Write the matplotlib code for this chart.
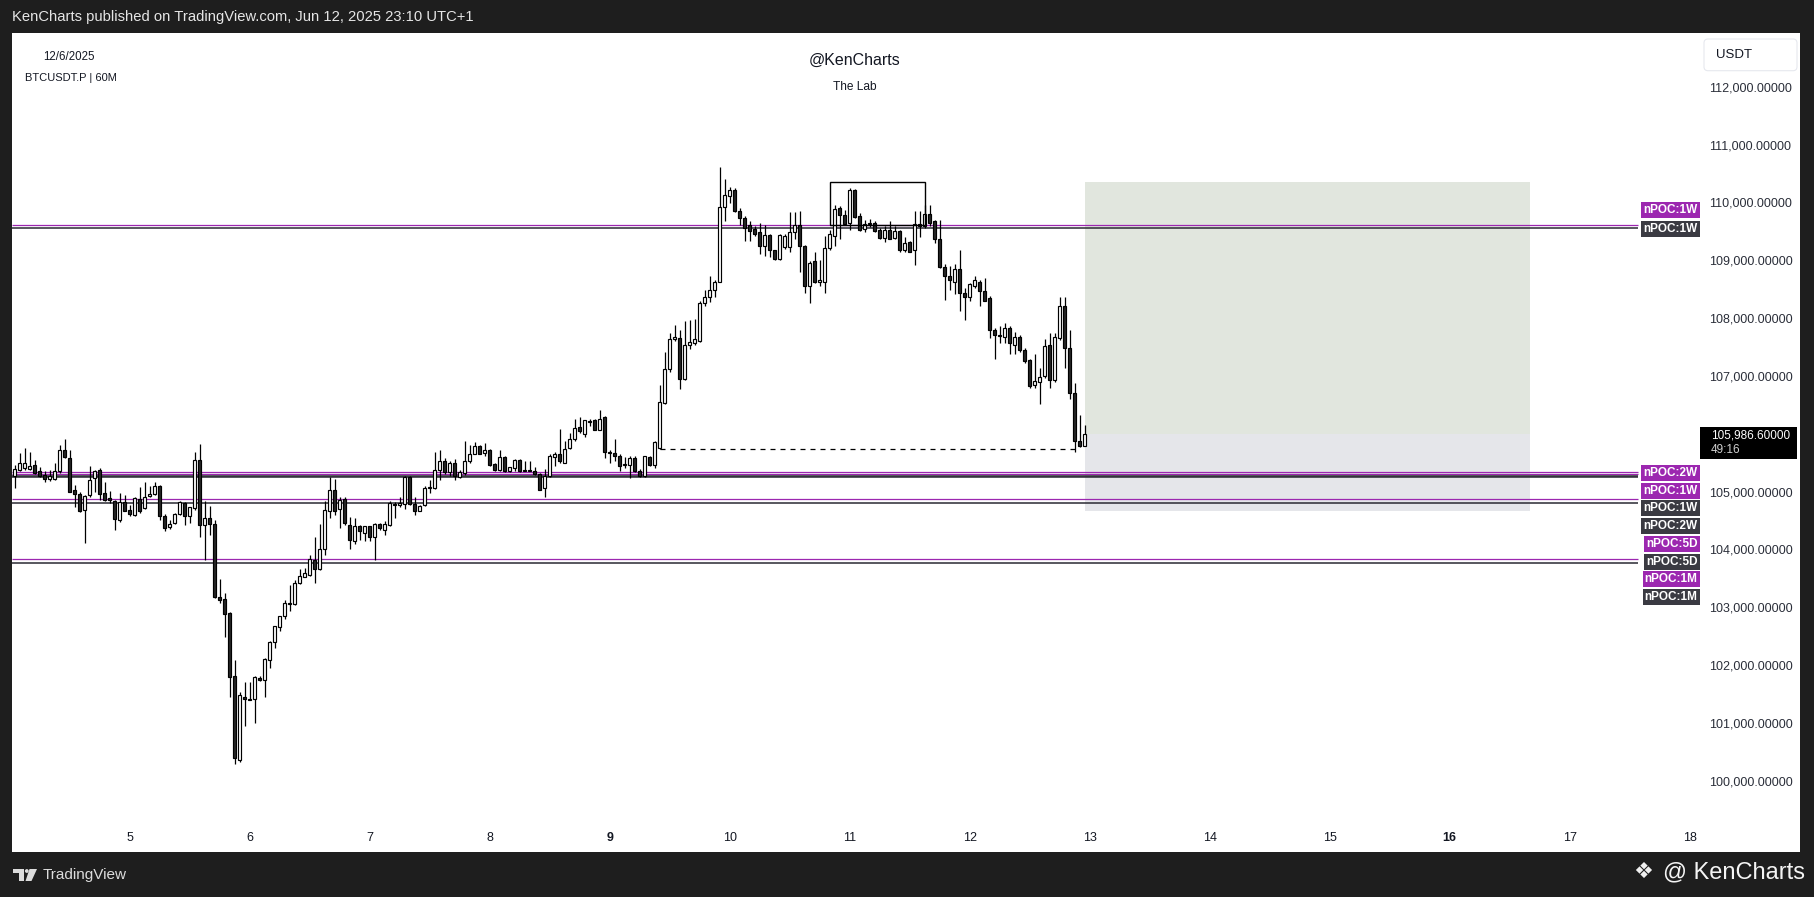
import matplotlib
matplotlib.use("Agg")
import matplotlib.pyplot as plt
import matplotlib.transforms as mtransforms
from matplotlib.patches import Rectangle, FancyBboxPatch, Circle, Polygon
import numpy as np

# ---------------- data ----------------
# hourly candles, index = hours since 5 Jun 2025 00:00 (UTC+1)
hours = list(range(-23, 192))
opens = [
    105270,105380,105400,105390,105460,105350,105290,105210,105210,105350,
    105720,105580,105030,104960,104680,104940,105230,105380,104970,104880,
    104830,104510,104810,104680,104590,104870,104710,104930,104960,105100,
    104580,104380,104450,104610,104800,104570,104710,105550,104420,104540,
    104440,103170,103140,102900,101810,100360,101440,101420,101410,101780,
    101740,102090,102390,102650,102840,103080,103060,103420,103530,103560,
    103820,103660,104000,104670,105020,104700,104870,104420,104150,104410,
    104290,104400,104220,104440,104330,104420,104790,104760,104780,105250,
    104790,104670,104770,105060,105060,105380,105520,105330,105490,105250,
    105320,105520,105650,105780,105660,105720,105480,105380,105600,105350,
    105400,105540,105380,105370,105360,105310,105060,105260,105600,105640,
    105500,105750,105900,106110,106000,106220,106230,106070,106290,105680,
    105670,105620,105450,105450,105580,105360,105260,105600,105460,105750,
    106530,107110,107630,107650,106940,107540,107560,107600,108260,108370,
    108480,108630,109920,110110,110210,109850,109730,109610,109540,109480,
    109250,109440,109170,109020,109230,109230,109480,109610,109240,108550,
    108980,108620,108630,109210,109420,109900,109790,109640,110220,109760,
    109540,109630,109640,109520,109380,109530,109380,109500,109170,109310,
    109170,109630,109590,109800,109670,109360,108890,108730,108630,108850,
    108440,108370,108560,108630,108460,108350,107800,107710,107680,107830,
    107540,107670,107440,107270,106850,106900,106990,107540,106920,107650,
    108210,107480,106700,105880,105790,
]
highs = [
    105460,105660,105750,105680,105550,105430,105350,105380,105500,105810,
    105900,105710,105120,105000,104940,105440,105380,105400,105160,105010,
    104860,104970,104940,104770,104900,105080,105170,105090,105170,105110,
    104610,104510,104630,104830,104820,104740,105690,105830,104830,104750,
    104510,103480,103250,102920,102090,101540,101710,101710,101810,101810,
    102120,102420,102680,102850,103130,103390,103470,103660,103670,103900,
    104220,104440,104830,105250,105210,104910,104900,104560,104550,104420,
    104410,104410,104450,104450,104490,104840,104810,104900,105260,105270,
    104900,104770,105090,105200,105680,105720,105580,105520,105570,105380,
    105870,105810,105850,105810,105840,105730,105490,105720,105610,105430,
    105560,105560,105530,105520,105420,105320,105390,105640,105690,106080,
    105870,106020,106250,106290,106240,106250,106250,106410,106310,105720,
    105910,105650,105600,105620,105620,105390,105620,105620,105870,106850,
    107410,107740,107880,107800,107940,107960,107980,108290,108480,108730,
    108650,110610,110400,110270,110250,109900,109760,109670,109590,109650,
    109610,109460,109180,109460,109460,109830,109830,109850,109270,108980,
    109150,109010,109410,109520,109960,109940,109870,110250,110230,109820,
    109700,109710,109670,109560,109590,109670,109590,109520,109400,109330,
    109850,109850,109960,109960,109690,109690,108940,108900,108940,109170,
    108520,108600,108730,108650,108690,108375,107830,107860,107920,107860,
    107750,107710,107480,107290,107370,107130,107640,107740,107740,108370,
    108360,107800,106870,106330,106150,
]
lows = [
    105060,105350,105380,105380,105310,105250,105170,105190,105200,105320,
    105580,105000,104730,104640,104110,104910,105000,104860,104830,104800,
    104340,104480,104660,104570,104570,104630,104700,104910,104940,104510,
    104310,104350,104440,104600,104420,104450,104680,104220,103820,104250,
    103160,103070,102480,101450,100290,100330,100940,101390,101000,101730,
    101440,101940,102290,102580,102790,102940,103040,103400,103520,103540,
    103420,103650,103900,104540,104600,104370,104420,104000,104100,104170,
    104150,104140,103820,104330,104250,104410,104540,104730,104700,104770,
    104600,104660,104750,104970,105040,105200,105310,105270,105200,105230,
    105290,105500,105640,105640,105610,105440,105360,105350,105330,105330,
    105360,105340,105350,105350,105290,105020,104900,105250,105440,105490,
    105490,105730,105880,106020,105950,106130,106060,106060,105580,105500,
    105520,105360,105400,105230,105330,105250,105250,105440,105400,105730,
    106520,107060,107600,106770,106930,107460,107540,107580,108200,108270,
    108370,108620,109670,109990,109830,109610,109330,109330,109420,109110,
    109080,109050,109010,109010,109190,109140,109360,108790,108430,108260,
    108610,108550,108440,109180,109250,109360,109600,109530,109730,109500,
    109480,109570,109480,109370,109310,109360,109370,109150,109150,109140,
    108920,109400,109560,109590,109300,108860,108320,108490,108420,108120,
    107970,108290,108520,108200,108290,107650,107290,107560,107570,107370,
    107380,107420,107230,106790,106790,106520,106960,106790,106890,107620,
    107130,106600,105690,105770,105780,
]
closes = [
    105390,105490,105500,105440,105320,105260,105210,105260,105350,105720,
    105600,105000,104960,104670,104930,105200,105360,104960,104860,104860,
    104520,104820,104670,104610,104890,104670,104900,104960,105100,104570,
    104370,104430,104610,104820,104570,104730,105550,104420,104540,104440,
    103170,103130,102890,101800,100390,101480,101410,101400,101800,101740,
    102100,102390,102670,102840,103080,103060,103420,103540,103590,103830,
    103660,104000,104680,105020,104670,104860,104450,104170,104410,104310,
    104400,104220,104440,104370,104440,104800,104760,104800,105250,104790,
    104660,104750,105060,105070,105380,105520,105330,105490,105260,105330,
    105530,105650,105780,105650,105720,105460,105380,105600,105350,105420,
    105540,105350,105360,105360,105310,105030,105260,105620,105640,105520,
    105730,105900,106100,106040,106230,106210,106070,106250,105680,105670,
    105620,105440,105480,105580,105350,105260,105610,105460,105850,106540,
    107110,107640,107670,106940,107540,107580,107630,108260,108370,108490,
    108630,109920,110120,110210,109850,109730,109560,109500,109460,109250,
    109440,109170,109020,109440,109420,109480,109610,109240,108550,108950,
    108620,108650,109210,109460,109890,109790,109630,110220,109750,109530,
    109630,109650,109500,109380,109530,109370,109500,109170,109300,109150,
    109630,109590,109800,109650,109370,108880,108720,108660,108840,108430,
    108360,108580,108650,108460,108300,107800,107710,107690,107830,107560,
    107670,107440,107250,106820,106910,106980,107510,106930,107670,108210,
    107480,106710,105880,105780,105986.6,
]

day_ticks = list(range(5, 19))
bold_days = [9, 16]
price_ticks = list(range(100000, 113000, 1000))

npoc_purple_levels = [109609, 105332, 105303, 104865, 103830]
npoc_dark_levels = [109562, 105266, 105244, 104796, 103770]

npoc_label_texts = ["nPOC:1W", "nPOC:1W", "nPOC:2W", "nPOC:1W", "nPOC:1W",
                    "nPOC:2W", "nPOC:5D", "nPOC:5D", "nPOC:1M", "nPOC:1M"]
npoc_label_kinds = ["p", "d", "p", "p", "d", "d", "p", "d", "p", "d"]
npoc_label_prices = [109868, 109539, 105325, 105014, 104710,
                     104404, 104092, 103776, 103482, 103181]

# long position tool
pos_start, pos_end = 191, 280
pos_target, pos_stop = 110360, 104660
# drawn rectangle and dashed level
box_x0, box_x1 = 140, 159
box_y0, box_y1 = 109600, 110360
dash_x0, dash_x1, dash_level = 106, 189, 105740
countdown = "49:16"

# ---------------- figure ----------------
W, H = 1814, 897
plt.rcParams["font.family"] = ["Liberation Sans", "DejaVu Sans"]
fig = plt.figure(figsize=(W / 100, H / 100), dpi=100, facecolor="#1e1e1e")
pix = mtransforms.Affine2D().scale(1.0 / W, -1.0 / H).translate(0, 1) + fig.transFigure

# white panel
fig.add_artist(Rectangle((12, 33), 1788, 819, transform=pix, fc="white", ec="none", zorder=-5))

ax = fig.add_axes([12 / W, 1 - 822 / H, 1686 / W, 789 / H])
ax.set_facecolor("none")
ax.patch.set_visible(False)
for s in ax.spines.values():
    s.set_visible(False)
ax.set_xlim(-23.52, 313.68)
ax.set_ylim(99285, 112928.6)

x = np.array(hours, dtype=float)
o = np.array(opens, dtype=float)
h = np.array(highs, dtype=float)
l = np.array(lows, dtype=float)
c = np.array(closes, dtype=float)
hh = np.maximum(h, np.maximum(o, c))
ll = np.minimum(l, np.minimum(o, c))

# position zones
ax.add_patch(Rectangle((pos_start, c[-1]), pos_end - pos_start, pos_target - c[-1],
                       fc="#e1e6de", ec="none", zorder=1))
ax.add_patch(Rectangle((pos_start, pos_stop), pos_end - pos_start, c[-1] - pos_stop,
                       fc="#e5e6ea", ec="none", zorder=1))

# nPOC lines
line_end = (1638 - 129.6) / 5
ax.hlines(npoc_purple_levels, -23.52, line_end, colors="#9c27b0", lw=0.9, zorder=2)
ax.hlines(npoc_dark_levels, -23.52, line_end, colors="#2a2a33", lw=1.1, zorder=2)

# candles
ax.vlines(x, ll, hh, colors="black", lw=0.9, zorder=3)
up = c >= o
bottoms = np.minimum(o, c)
heights = np.maximum(np.abs(c - o), 12)
ax.bar(x, heights, bottom=bottoms, width=0.62,
       color=["white" if u else "#262626" for u in up],
       edgecolor="black", linewidth=0.85, zorder=4)

# rectangle drawing and dashed line
ax.add_patch(Rectangle((box_x0, box_y0), box_x1 - box_x0, box_y1 - box_y0,
                       fill=False, ec="black", lw=1.0, zorder=5))
ax.hlines(dash_level, dash_x0, dash_x1, colors="black", lw=0.9,
          linestyles=(0, (4, 4)), zorder=5)

# nPOC labels
lab_x = (1697.5 - 129.6) / 5
for txt, kind, pr in zip(npoc_label_texts, npoc_label_kinds, npoc_label_prices):
    ax.text(lab_x, pr, txt, ha="right", va="center", color="white", fontsize=8.5,
            fontweight="bold", clip_on=False, zorder=7,
            bbox=dict(boxstyle="square,pad=0.18", fc="#9c27b0" if kind == "p" else "#3a3a42",
                      ec="none"))

# axes ticks
ax.yaxis.tick_right()
ax.set_yticks(price_ticks)
ax.set_yticklabels([f"{p:,.5f}" for p in price_ticks])
ax.tick_params(axis="y", length=0, pad=8, labelsize=9, labelcolor="#2a2e39")
ax.set_xticks([(d - 5) * 24 for d in day_ticks])
ax.set_xticklabels([str(d) for d in day_ticks])
ax.tick_params(axis="x", length=0, pad=7.5, labelsize=9, labelcolor="#131722")
for lbl, d in zip(ax.get_xticklabels(), day_ticks):
    if d in bold_days:
        lbl.set_fontweight("bold")

# current price label
ypx = H - ax.transData.transform((0, c[-1]))[1]
fig.add_artist(Rectangle((1700, ypx - 7), 97, 32, transform=pix, fc="black", ec="none", zorder=6))
fig.text(1711, ypx + 1, f"{c[-1]:,.5f}", transform=pix, color="white", fontsize=8.5,
         va="center", ha="left", zorder=7)
fig.text(1711, ypx + 16, countdown, transform=pix, color="#d0d0d0", fontsize=8.5,
         va="center", ha="left", zorder=7)

# USDT box
fig.add_artist(FancyBboxPatch((1704, 39), 93, 31.7, boxstyle="round,pad=0,rounding_size=4",
                              transform=pix, fc="white", ec="#e6e8ee", lw=0.8))
fig.text(1716, 55, "USDT", transform=pix, fontsize=9.5, color="#131722", va="center", ha="left")

# header texts
fig.text(12, 17, "KenCharts published on TradingView.com, Jun 12, 2025 23:10 UTC+1",
         transform=pix, fontsize=10.6, color="#e6e6e6", va="center", ha="left")
fig.text(43, 57, "12/6/2025", transform=pix, fontsize=8.3, color="#131722", va="center", ha="left")
fig.text(25, 78, "BTCUSDT.P | 60M", transform=pix, fontsize=8.0, color="#131722", va="center", ha="left")
fig.text(855, 60.7, "@KenCharts", transform=pix, fontsize=11.5, color="#131722", va="center", ha="center")
fig.text(855, 86.7, "The Lab", transform=pix, fontsize=8.6, color="#131722", va="center", ha="center")

# footer: TradingView logo + text
fc = "#dcdcdc"
fig.add_artist(Rectangle((13.3, 869), 10.7, 3.7, transform=pix, fc=fc, ec="none"))
fig.add_artist(Rectangle((19.3, 869), 4.7, 12, transform=pix, fc=fc, ec="none"))
fig.add_artist(Circle((26.8, 871), 1.9, transform=pix, fc=fc, ec="none"))
fig.add_artist(Polygon([(29.5, 869), (37, 869), (31.5, 881), (25.5, 881)], closed=True,
                       transform=pix, fc=fc, ec="none"))
fig.text(43, 875, "TradingView", transform=pix, fontsize=11, color=fc, va="center", ha="left")

# footer: watermark
fig.text(1643, 872, "\u2756", transform=pix, fontsize=16, color="#f0f0f0", va="center",
         ha="center", family="DejaVu Sans")
fig.text(1663, 872, "@ KenCharts", transform=pix, fontsize=17, color="#f4f4f4", va="center", ha="left")

fig.savefig("out.png", dpi=100, facecolor=fig.get_facecolor())
